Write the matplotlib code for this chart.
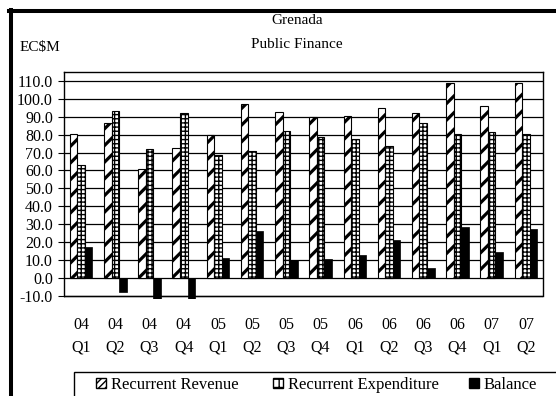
import numpy as np
import matplotlib
matplotlib.use('Agg')
import matplotlib.pyplot as plt
from matplotlib.patches import Rectangle, Patch
from matplotlib.lines import Line2D

plt.rcParams['font.family'] = ['Liberation Serif', 'DejaVu Serif']

years = ['04', '04', '04', '04', '05', '05', '05', '05', '06', '06', '06', '06', '07', '07']
quarters = ['Q1', 'Q2', 'Q3', 'Q4', 'Q1', 'Q2', 'Q3', 'Q4', 'Q1', 'Q2', 'Q3', 'Q4', 'Q1', 'Q2']
revenue = [80.6, 86.2, 60.7, 72.8, 79.8, 96.8, 92.5, 89.6, 90.5, 94.6, 92.3, 108.5, 95.9, 108.5]
expenditure = [63.1, 93.1, 72.2, 91.8, 68.9, 70.9, 82.1, 78.4, 77.8, 73.5, 86.2, 80.1, 81.3, 80.6]
balance = [17.1, -7.9, -11.5, -19.0, 11.0, 26.2, 10.2, 10.8, 13.0, 21.4, 5.9, 28.3, 14.5, 27.5]
legend_labels = ['Recurrent Revenue', 'Recurrent Expenditure', 'Balance']

W, H = 556, 396
fig = plt.figure(figsize=(W / 100, H / 100), dpi=100)
ax = fig.add_axes([64 / W, (H - 299) / H, (543 - 64) / W, (299 - 72.3) / H])

x = np.arange(len(years))
bw = 0.22
with plt.rc_context({'hatch.linewidth': 2.3}):
    ax.bar(x - bw, revenue, bw, color='white', edgecolor='black', hatch='//',
           lw=0.8, zorder=3)
with plt.rc_context({'hatch.linewidth': 1.0}):
    ax.bar(x, expenditure, bw, color='white', edgecolor='black', hatch='++++',
           lw=0.8, zorder=3)
ax.bar(x + bw, balance, bw, color='black', edgecolor='black', lw=0.5, zorder=3)

ax.set_xlim(-0.5, len(years) - 0.5)
ax.set_ylim(-11.6, 114.7)
yt = np.arange(-10, 111, 10)
ax.set_yticks(yt)
ax.set_yticklabels([f'{v:.1f}' for v in yt], fontsize=11.5)
ax.set_xticks(x)
ax.set_xticklabels([f'{a}\n{b}' for a, b in zip(years, quarters)], fontsize=11.5,
                   linespacing=1.55)
ax.tick_params(axis='x', length=0, pad=13)
ax.tick_params(axis='y', length=4, width=0.8, pad=4)
ax.yaxis.grid(True, color='black', lw=0.9, zorder=1)
ax.set_axisbelow(True)
ax.axhline(-10, color='black', lw=1.0, zorder=4)
ax.spines['bottom'].set_visible(False)
for s in ['left', 'right', 'top']:
    ax.spines[s].set_linewidth(1.0)
ax.spines['left'].set_bounds(-10, 114.7)
ax.spines['right'].set_bounds(-10, 114.7)

fig.text(297 / W, 1 - 20 / H, 'Grenada', ha='center', va='center', fontsize=11)
fig.text(297 / W, 1 - 44 / H, 'Public Finance', ha='center', va='center', fontsize=11)
fig.text(20 / W, 1 - 47 / H, 'EC$M', ha='left', va='center', fontsize=11)

# outer frame (left and top only visible)
fig.add_artist(Line2D([11 / W, 11 / W], [0, 1 - 10 / H], color='black', lw=2.9))
fig.add_artist(Line2D([9 / W, 1], [1 - 11 / H, 1 - 11 / H], color='black', lw=2.9))

# legend box
fig.add_artist(Rectangle((74 / W, -0.05), 1.0, 0.05 + (H - 371.5) / H,
                         transform=fig.transFigure, fill=False, ec='black', lw=1.0))
with plt.rc_context({'hatch.linewidth': 1.5}):
    handles = [Patch(fc='white', ec='black', hatch='/////'),
               Patch(fc='white', ec='black', hatch='++'),
               Patch(fc='black', ec='black')]
for h, lab, xs in zip(handles, legend_labels, [96, 273, 469]):
    fig.legend(handles=[h], labels=[lab], loc='center left',
               bbox_to_anchor=(xs / W, 1 - 385 / H), frameon=False, fontsize=12,
               handlelength=0.6, handleheight=0.6, handletextpad=0.3,
               borderaxespad=0, borderpad=0)

fig.savefig('out.png', dpi=100)
